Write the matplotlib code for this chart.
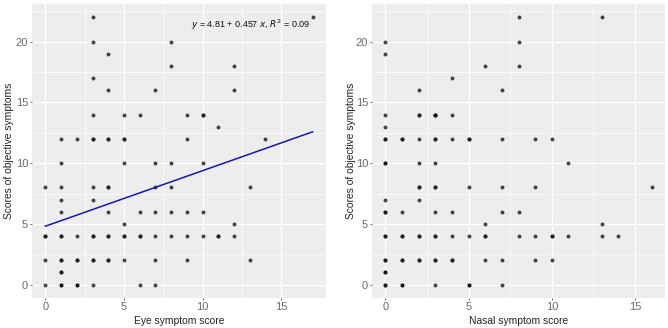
import matplotlib.pyplot as plt
import numpy as np

# Eye symptom score vs objective symptom score (repeated pairs = overlapping subjects)
eye_score = [0, 0, 0, 0, 0,
             1, 1, 1, 1, 1, 1, 1, 1, 1, 1, 1, 1, 1,
             2, 2, 2, 2, 2, 2,
             3, 3, 3, 3, 3, 3, 3, 3, 3, 3, 3, 3, 3,
             4, 4, 4, 4, 4, 4, 4, 4, 4, 4, 4,
             5, 5, 5, 5, 5, 5, 5, 5,
             6, 6, 6, 6, 6,
             7, 7, 7, 7, 7, 7, 7,
             8, 8, 8, 8, 8, 8,
             9, 9, 9, 9, 9,
             10, 10, 10, 10, 10,
             11, 11, 11,
             12, 12, 12, 12,
             13, 13,
             14,
             17]
eye_objective = [0, 2, 4, 4, 8,
                 0, 0, 1, 1, 2, 2, 4, 4, 6, 7, 8, 10, 12,
                 0, 0, 2, 2, 4, 12,
                 0, 2, 2, 4, 4, 7, 8, 12, 12, 14, 17, 20, 22,
                 2, 2, 4, 4, 6, 8, 8, 12, 12, 16, 19,
                 2, 4, 4, 5, 10, 12, 12, 14,
                 0, 4, 4, 6, 14,
                 0, 2, 4, 6, 8, 10, 16,
                 4, 6, 8, 10, 18, 20,
                 2, 4, 6, 12, 14,
                 4, 6, 10, 14, 14,
                 4, 4, 13,
                 4, 5, 16, 18,
                 2, 8,
                 12,
                 22]

# Nasal symptom score vs objective symptom score
nasal_score = [0, 0, 0, 0, 0, 0, 0, 0, 0, 0, 0, 0, 0, 0, 0, 0, 0, 0, 0,
               1, 1, 1, 1, 1, 1, 1, 1, 1,
               2, 2, 2, 2, 2, 2, 2, 2, 2, 2, 2, 2,
               3, 3, 3, 3, 3, 3, 3, 3, 3, 3, 3, 3, 3, 3,
               4, 4, 4, 4, 4, 4, 4,
               5, 5, 5, 5, 5, 5,
               6, 6, 6, 6, 6,
               7, 7, 7, 7, 7, 7,
               8, 8, 8, 8, 8,
               9, 9, 9, 9,
               10, 10, 10, 10,
               11, 11,
               13, 13, 13,
               14,
               16]
nasal_objective = [0, 0, 1, 1, 2, 2, 4, 4, 6, 6, 7, 10, 10, 12, 12, 13, 14, 19, 20,
                   0, 0, 2, 2, 4, 4, 6, 12, 12,
                   2, 2, 4, 4, 7, 8, 8, 10, 12, 14, 14, 16,
                   0, 2, 2, 4, 4, 6, 8, 8, 10, 12, 12, 14, 14, 14,
                   2, 2, 4, 6, 12, 14, 17,
                   0, 0, 4, 8, 12, 12,
                   2, 4, 4, 5, 18,
                   0, 2, 6, 8, 12, 16,
                   4, 6, 18, 20, 22,
                   2, 4, 8, 12,
                   2, 4, 4, 12,
                   4, 10,
                   4, 5, 22,
                   4,
                   8]

# fitted line shown on the eye panel
fit_intercept = 4.81
fit_slope = 0.457
fit_r2 = 0.09

panel_bg = "#EDEDED"
tick_grey = "#6A6A6A"
font = "Liberation Sans"


def gg_panel(ax, x, y, xlabel, xmax, ylab_x):
    ax.set_facecolor(panel_bg)
    for s in ax.spines.values():
        s.set_visible(False)
    ax.scatter(x, y, s=8, color="black", alpha=0.72, linewidths=0, zorder=3)

    ax.set_xlim(-0.05 * xmax, xmax * 1.05)
    ax.set_ylim(-1.1, 23.1)
    ax.set_xticks([0, 5, 10, 15])
    ax.set_yticks([0, 5, 10, 15, 20])
    ax.set_xticks([2.5, 7.5, 12.5], minor=True)
    ax.set_yticks([2.5, 7.5, 12.5, 17.5, 22.5], minor=True)
    ax.grid(which="major", color="white", linewidth=0.9, zorder=0)
    ax.grid(which="minor", color="white", linewidth=0.45, zorder=0)
    ax.set_axisbelow(True)
    ax.tick_params(which="major", length=1.6, width=0.6, color="#555555",
                   labelsize=8, labelcolor=tick_grey, pad=1.2)
    ax.tick_params(which="minor", length=0)
    for lab in ax.get_xticklabels() + ax.get_yticklabels():
        lab.set_fontfamily(font)

    ax.set_xlabel(xlabel, fontsize=7.4, fontfamily=font, labelpad=3, color="#222222")
    ax.set_ylabel("Scores of objective symptoms", fontsize=7.4, fontfamily=font,
                  color="#222222")
    ax.yaxis.set_label_coords(ylab_x, 0.5)


fig = plt.figure(figsize=(6.68, 3.28), dpi=100)
ax1 = fig.add_axes([32 / 668, 30 / 328, 294 / 668, 294 / 328])
ax2 = fig.add_axes([372 / 668, 30 / 328, 293 / 668, 294 / 328])

gg_panel(ax1, eye_score, eye_objective, "Eye symptom score", max(eye_score), -0.062)
gg_panel(ax2, nasal_score, nasal_objective, "Nasal symptom score", max(nasal_score), -0.054)

# regression line over the range of the eye data
xs = np.array([min(eye_score), max(eye_score)])
ax1.plot(xs, fit_intercept + fit_slope * xs, color="#1515B8", linewidth=1.1, zorder=4)
ax1.text(16.85, 21.4,
         rf"$y$ = {fit_intercept} + {fit_slope} $x$, $R^2$ = {fit_r2}",
         ha="right", va="center", fontsize=6.5, fontfamily=font, color="#111111")

fig.savefig("out.png", dpi=100)
